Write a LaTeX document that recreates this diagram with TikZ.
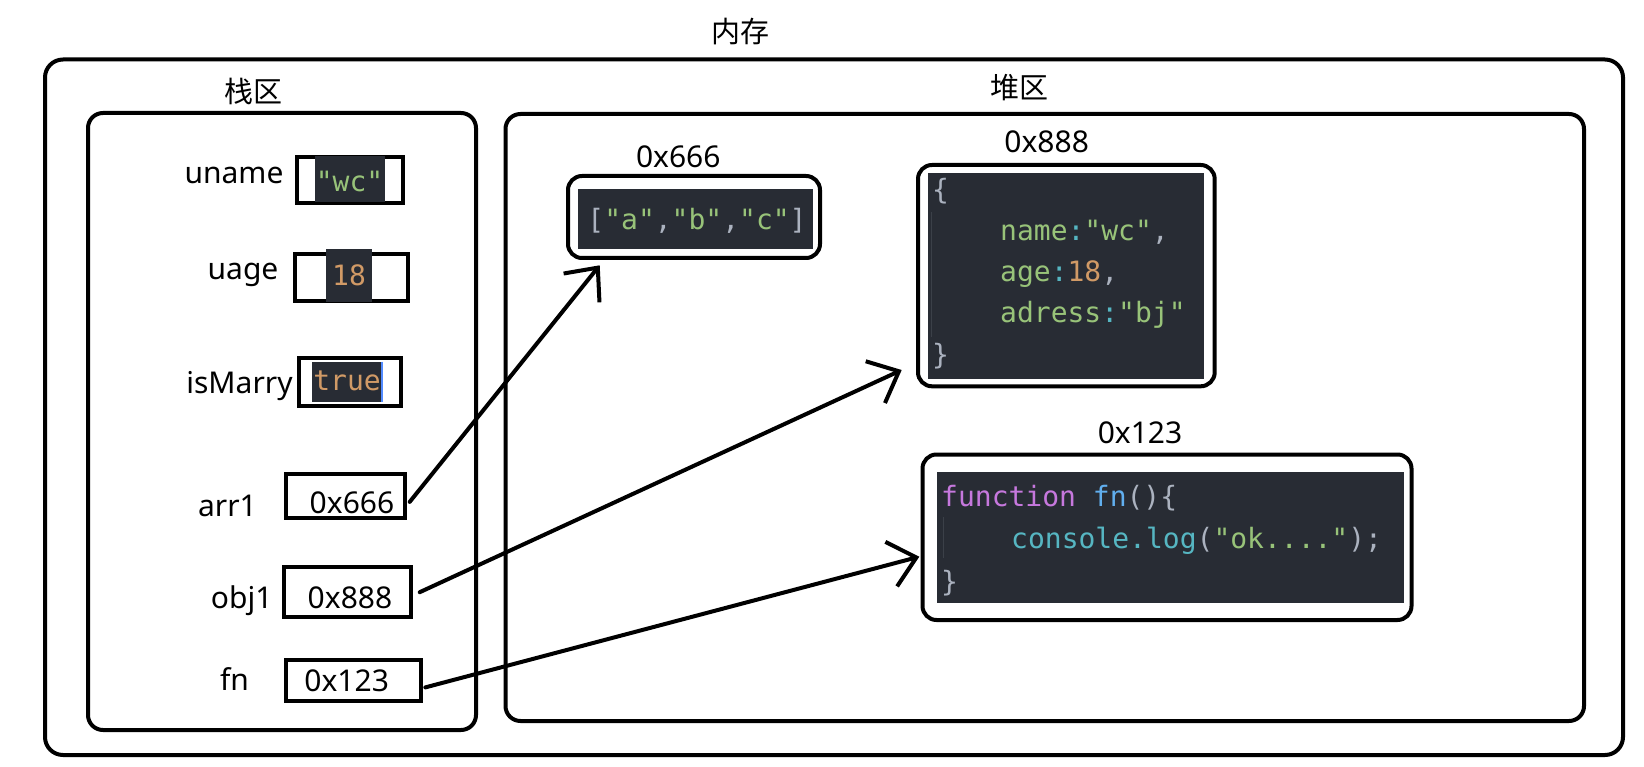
\documentclass[tikz,border=0pt]{standalone}
\usepackage{fontspec}
\setmainfont{Noto Sans}
\setmonofont{DejaVu Sans Mono}
\newfontfamily\cjk{Noto Sans CJK SC}
\usetikzlibrary{arrows.meta}
\definecolor{codebg}{HTML}{282C34}
\definecolor{cgreen}{HTML}{98C379}
\definecolor{corange}{HTML}{D19A66}
\definecolor{cpurple}{HTML}{C678DD}
\definecolor{cblue}{HTML}{61AFEF}
\definecolor{ccyan}{HTML}{56B6C2}
\definecolor{cgray}{HTML}{ABB2BF}
\definecolor{cguide}{HTML}{3B4048}
\definecolor{caret}{HTML}{528BFF}
\newcommand\lblfont{\fontsize{30}{36}\selectfont}
\newcommand\codefont{\ttfamily\fontsize{28}{34}\selectfont}
\newcommand\zonefont{\cjk\fontsize{29}{34}\selectfont}
\tikzset{
  memframe/.style={line width=4pt,rounded corners=15pt},
  valbox/.style={draw,line width=4pt,inner sep=0pt},
  lbl/.style={font=\lblfont,inner sep=0pt,anchor=base},
  zone/.style={font=\zonefont,inner sep=0pt},
  code/.style={font=\codefont,inner sep=0pt,anchor=base west},
  ptr/.style={line width=4pt,line cap=round,-{Straight Barb[length=26pt,width=46pt]}},
}
\begin{document}
\begin{tikzpicture}[x=1pt,y=-1pt]
\useasboundingbox (0,0) rectangle (1644,767);
% memory
\node[zone] (mem) at (740,31.5) {内存};
\draw[memframe,rounded corners=18pt] (45,59.5) rectangle (1623,755);
% stack
\node[zone] (stack) at (253,91.7) {栈区};
\draw[memframe] (88,113) rectangle (476,730);
\node[lbl] (uname) at (234,183.3) {uname};
\node[valbox,minimum width=106pt,minimum height=46pt] (unamebox) at (350,180) {};
\fill[codebg] (315,156) rectangle (385,202);
\node[code,anchor=base] (unameval) at (349.5,191.7) {\textcolor{cgreen}{"wc"}};
\node[lbl] (uage) at (243,280) {uage};
\node[valbox,minimum width=112.7pt,minimum height=47pt] (uagebox) at (351.7,277.2) {};
\fill[codebg] (326,249) rectangle (372,302);
\node[code,anchor=base] (uageval) at (349,286) {\textcolor{corange}{18}};
\node[lbl] (ismarry) at (239.5,393.3) {isMarry};
\node[valbox,minimum width=102pt,minimum height=48pt] (ismarrybox) at (349.7,382) {};
\fill[codebg] (311.7,361.7) rectangle (381.7,401.7);
\draw[caret,line width=2pt] (381.7,361.7) -- (381.7,401.7);
\node[code,anchor=base] (ismarryval) at (347,390) {\textcolor{corange}{true}};
\node[lbl] (arr) at (227.5,516) {arr1};
\node[valbox,minimum width=118.4pt,minimum height=44.3pt] (arrbox) at (345.5,495.9) {};
\node[lbl] (arrval) at (352,513.3) {0x666};
\node[lbl] (obj) at (241.7,608.3) {obj1};
\node[valbox,minimum width=126.4pt,minimum height=50.3pt] (objbox) at (347.5,592.2) {};
\node[lbl] (objval) at (350,608.3) {0x888};
\node[lbl] (fn) at (234.5,690) {fn};
\node[valbox,minimum width=135pt,minimum height=41.3pt] (fnbox) at (353.8,680.4) {};
\node[lbl] (fnval) at (346.7,691.7) {0x123};
% heap
\node[zone] (heap) at (1019,88) {堆区};
\draw[memframe] (505.5,114) rectangle (1584,721);
% array
\node[lbl] (arraddr) at (678.3,167.5) {0x666};
\draw[memframe,rounded corners=14pt] (568,176) rectangle (820,258);
\fill[codebg] (578.3,189.3) rectangle (812.7,249.3);
\node[code,anchor=base] (arrcode) at (697,230) {\textcolor{cgray}{[}\textcolor{cgreen}{"a"}\textcolor{cgray}{,}\textcolor{cgreen}{"b"}\textcolor{cgray}{,}\textcolor{cgreen}{"c"}\textcolor{cgray}{]}};
% object
\node[lbl] (objaddr) at (1046.7,152.5) {0x888};
\draw[memframe,rounded corners=14pt] (918,165) rectangle (1214.7,386.3);
\fill[codebg] (928.3,173.3) rectangle (1204,379.3);
\draw[cguide,line width=1pt] (931.7,211.7) -- (931.7,336.7);
\node[code] (objl1) at (932,200) {\textcolor{cgray}{\{}};
\node[code] (objl2) at (1000,241) {\textcolor{cgreen}{name}\textcolor{ccyan}{:}\textcolor{cgreen}{"wc"}\textcolor{cgray}{,}};
\node[code] (objl3) at (1000,282) {\textcolor{cgreen}{age}\textcolor{ccyan}{:}\textcolor{corange}{18}\textcolor{cgray}{,}};
\node[code] (objl4) at (1000,323) {\textcolor{cgreen}{adress}\textcolor{ccyan}{:}\textcolor{cgreen}{"bj"}};
\node[code] (objl5) at (932,364) {\textcolor{cgray}{\}}};
% function
\node[lbl] (fnaddr) at (1140,443.3) {0x123};
\draw[memframe,rounded corners=14pt] (922.5,454.5) rectangle (1411.5,620);
\fill[codebg] (936.7,471.7) rectangle (1404,603.3);
\draw[cguide,line width=1pt] (943.3,517) -- (943.3,558);
\node[code] (fnl1) at (941,506) {\textcolor{cpurple}{function} \textcolor{cblue}{fn}\textcolor{cgray}{()\{}};
\node[code] (fnl2) at (1011,548) {\textcolor{ccyan}{console.log}\textcolor{cgray}{(}\textcolor{cgreen}{"ok...."}\textcolor{cgray}{);}};
\node[code] (fnl3) at (941,591) {\textcolor{cgray}{\}}};
% pointers
\coordinate (arrtip) at (599.7,265.3);
\coordinate (objtip) at (901.7,370);
\coordinate (fntip) at (919.3,556.7);
\draw[ptr] ([xshift=3pt,yshift=-6pt]arrbox.east) -- (arrtip);
\draw[ptr] ([xshift=7pt]objbox.east) -- (objtip);
\draw[ptr] ([xshift=2pt,yshift=-7pt]fnbox.east) -- (fntip);
\end{tikzpicture}
\end{document}
